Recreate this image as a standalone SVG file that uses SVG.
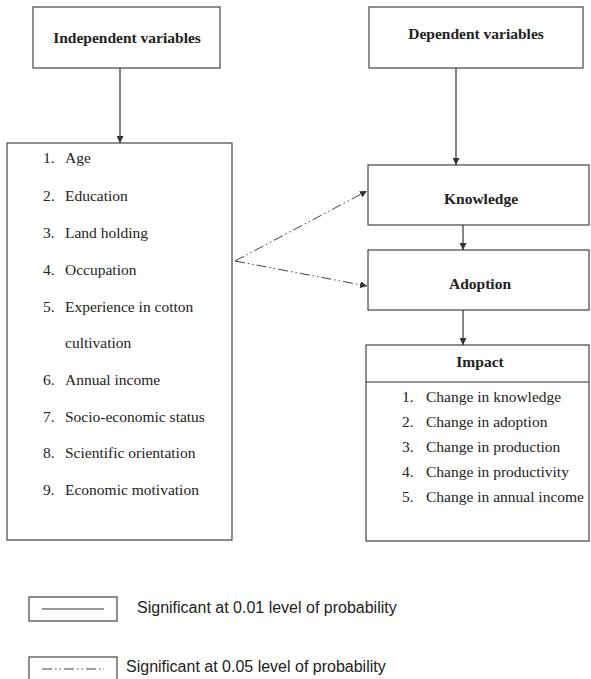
<svg xmlns="http://www.w3.org/2000/svg" width="591" height="679" viewBox="0 0 591 679">
<defs>
<marker id="ah" viewBox="0 0 10 10" refX="10" refY="5" markerWidth="7" markerHeight="7" markerUnits="userSpaceOnUse" orient="auto">
<path d="M0,0 L10,5 L0,10 z" fill="#333"/>
</marker>
<style>
.box{fill:#fff;stroke:#444;stroke-width:1.2}
.t{font-family:"Liberation Serif","Times New Roman",serif;font-size:15.5px;fill:#222}
.b{font-family:"Liberation Serif","Times New Roman",serif;font-size:15.5px;font-weight:bold;fill:#222;text-anchor:middle}
.s{font-family:"Liberation Sans",Arial,sans-serif;font-size:16px;fill:#222}
.ln{stroke:#333;stroke-width:1.2;fill:none}
.dd{stroke:#444;stroke-width:1;fill:none;stroke-dasharray:10 3 1.5 3 1.5 3}
</style>
</defs>
<rect width="591" height="679" fill="#fff"/>
<g id="independent">
<rect class="box" x="33" y="7" width="187" height="61"/>
<text class="b" x="127" y="43">Independent variables</text>
</g>
<g id="dependent">
<rect class="box" x="369" y="7" width="214" height="61"/>
<text class="b" x="476" y="39">Dependent variables</text>
</g>
<g id="ind-list">
<rect class="box" x="7" y="143" width="225" height="397"/>
<text class="t" x="43" y="163">1.</text><text class="t" x="65" y="163">Age</text>
<text class="t" x="43" y="201">2.</text><text class="t" x="65" y="201">Education</text>
<text class="t" x="43" y="238">3.</text><text class="t" x="65" y="238">Land holding</text>
<text class="t" x="43" y="275">4.</text><text class="t" x="65" y="275">Occupation</text>
<text class="t" x="43" y="312">5.</text><text class="t" x="65" y="312">Experience in cotton</text>
<text class="t" x="65" y="348">cultivation</text>
<text class="t" x="43" y="385">6.</text><text class="t" x="65" y="385">Annual income</text>
<text class="t" x="43" y="422">7.</text><text class="t" x="65" y="422">Socio-economic status</text>
<text class="t" x="43" y="458">8.</text><text class="t" x="65" y="458">Scientific orientation</text>
<text class="t" x="43" y="495">9.</text><text class="t" x="65" y="495">Economic motivation</text>
</g>
<g id="knowledge">
<rect class="box" x="368" y="165" width="221" height="60"/>
<text class="b" x="481" y="204">Knowledge</text>
</g>
<g id="adoption">
<rect class="box" x="368" y="250" width="221" height="60"/>
<text class="b" x="480" y="289">Adoption</text>
</g>
<g id="impact">
<rect class="box" x="366" y="345" width="223" height="196"/>
<line class="ln" x1="366" y1="382" x2="589" y2="382"/>
<text class="b" x="480" y="367">Impact</text>
<text class="t" x="402" y="402">1.</text><text class="t" x="426" y="402">Change in knowledge</text>
<text class="t" x="402" y="427">2.</text><text class="t" x="426" y="427">Change in adoption</text>
<text class="t" x="402" y="452">3.</text><text class="t" x="426" y="452">Change in production</text>
<text class="t" x="402" y="477">4.</text><text class="t" x="426" y="477">Change in productivity</text>
<text class="t" x="402" y="502">5.</text><text class="t" x="426" y="502">Change in annual income</text>
</g>
<g id="connectors">
<line class="ln" x1="120" y1="68" x2="120" y2="143" marker-end="url(#ah)"/>
<line class="ln" x1="456" y1="68" x2="456" y2="165" marker-end="url(#ah)"/>
<line class="ln" x1="463" y1="225" x2="463" y2="250" marker-end="url(#ah)"/>
<line class="ln" x1="463" y1="310" x2="463" y2="345" marker-end="url(#ah)"/>
<line class="dd" x1="235" y1="261" x2="367" y2="191" marker-end="url(#ah)"/>
<line class="dd" x1="235" y1="261" x2="367" y2="286" marker-end="url(#ah)"/>
</g>
<g id="legend">
<rect class="box" x="29" y="597" width="88" height="24"/>
<line class="ln" x1="42" y1="609" x2="104" y2="609"/>
<text class="s" x="137" y="613">Significant at 0.01 level of probability</text>
<rect class="box" x="29" y="657" width="88" height="30"/>
<line class="dd" x1="42" y1="669" x2="104" y2="669"/>
<text class="s" x="126" y="672">Significant at 0.05 level of probability</text>
</g>
</svg>
